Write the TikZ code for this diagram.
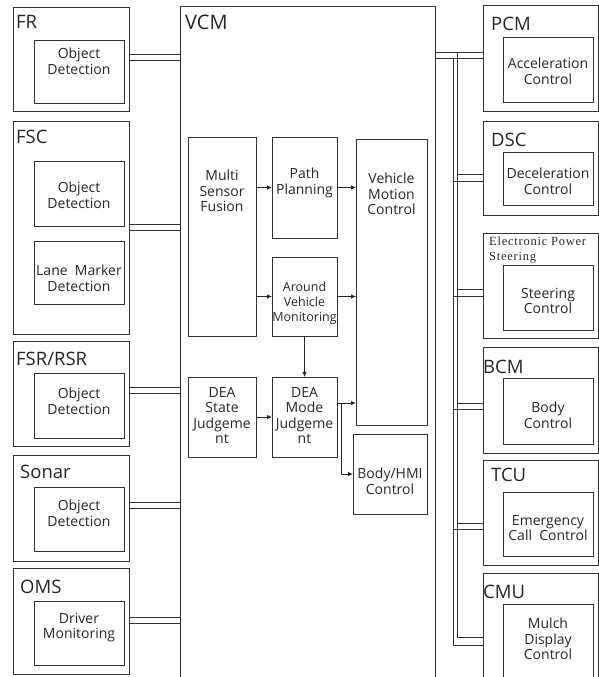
\documentclass[tikz,border=0pt]{standalone}
\usepackage{fontspec}
\setmainfont{Open Sans}
\newfontfamily\epsfont[LetterSpace=6]{Liberation Serif}
\usepackage{tikz}
\usetikzlibrary{arrows.meta, positioning}
\tikzset{
    obox/.style={rectangle, draw=black!80, line width=0.8pt, inner sep=0pt, outer sep=0pt},
    tag/.style={anchor=north west, inner sep=0pt, text=black!85, font=\fontsize{18.5}{21}\selectfont},
    txt/.style={align=center, inner sep=0pt, text=black!85, font=\fontsize{14}{15.5}\selectfont},
    smalltxt/.style={txt, font=\fontsize{12.5}{15}\selectfont},
    wire/.style={draw=black!80, line width=0.8pt},
    arrow/.style={-{Latex[length=5pt,width=4.5pt]}, draw=black!85, line width=0.8pt}
}
\begin{document}
\begin{tikzpicture}[x=1pt, y=-1pt]
    \useasboundingbox (0,0) rectangle (599,677);

    % central controller
    \node[obox, minimum width=255pt, minimum height=684pt] (vcm) at (307.5,348) {};
    \node[tag, font=\fontsize{20}{24}\selectfont] (vcm-t) at (185,15) {VCM};

    % sensors
    \node[obox, minimum width=116pt, minimum height=104pt] (fr) at (71,59) {};
    \node[obox, minimum width=90pt, minimum height=63pt] (fr-od) at (79,71.5) {};
    \node[tag] (fr-t) at (16,15) {FR};
    \node[txt, below=8pt of fr-od.north] (fr-od-t) {Object\\Detection};

    \node[obox, minimum width=116pt, minimum height=213pt] (fsc) at (71,227.5) {};
    \node[obox, minimum width=90pt, minimum height=65pt] (fsc-od) at (79,193.5) {};
    \node[obox, minimum width=90pt, minimum height=63pt] (fsc-lm) at (79,272.5) {};
    \node[tag] (fsc-t) at (16,130) {FSC};
    \node[txt, below=21pt of fsc-od.north] (fsc-od-t) {Object\\Detection};
    \node[txt, below=24pt of fsc-lm.north] (fsc-lm-t) {Lane\ \ Marker\\Detection};

    \node[obox, minimum width=116pt, minimum height=105pt] (fsr) at (71,393.5) {};
    \node[obox, minimum width=90pt, minimum height=65pt] (fsr-od) at (79,405.5) {};
    \node[tag] (fsr-t) at (16,352) {FSR/RSR};
    \node[txt, below=15pt of fsr-od.north] (fsr-od-t) {Object\\Detection};

    \node[obox, minimum width=116pt, minimum height=106pt] (sonar) at (71,508) {};
    \node[obox, minimum width=90pt, minimum height=64pt] (sonar-od) at (79,519) {};
    \node[tag] (sonar-t) at (20,465) {Sonar};
    \node[txt, below=13pt of sonar-od.north] (sonar-od-t) {Object\\Detection};

    \node[obox, minimum width=116pt, minimum height=106pt] (oms) at (71,621) {};
    \node[obox, minimum width=90pt, minimum height=64pt] (oms-dm) at (79,633) {};
    \node[tag] (oms-t) at (20,580) {OMS};
    \node[txt, below=12pt of oms-dm.north] (oms-dm-t) {Driver\\Monitoring};

    % actuators
    \node[obox, minimum width=115pt, minimum height=106pt] (pcm) at (540.5,58) {};
    \node[obox, minimum width=90pt, minimum height=65pt] (pcm-ac) at (548,69.5) {};
    \node[tag] (pcm-t) at (491,17) {PCM};
    \node[txt, below=21pt of pcm-ac.north] (pcm-ac-t) {Acceleration\\Control};

    \node[obox, minimum width=115pt, minimum height=94pt] (dsc) at (540.5,168) {};
    \node[obox, minimum width=90pt, minimum height=53pt] (dsc-dc) at (548,178.5) {};
    \node[tag] (dsc-t) at (491,133) {DSC};
    \node[txt, below=16pt of dsc-dc.north] (dsc-dc-t) {Deceleration\\Control};

    \node[obox, minimum width=115pt, minimum height=105pt] (eps) at (540.5,285.5) {};
    \node[obox, minimum width=90pt, minimum height=65pt] (eps-sc) at (548,297.5) {};
    \node[anchor=north west, inner sep=0pt, align=left, text=black!85,
          font=\epsfont\fontsize{12.5}{14.5}\selectfont] (eps-t) at (489,237) {Electronic Power\\Steering};
    \node[txt, below=23pt of eps-sc.north] (eps-sc-t) {Steering\\Control};

    \node[obox, minimum width=115pt, minimum height=106pt] (bcm) at (540.5,400) {};
    \node[obox, minimum width=90pt, minimum height=66pt] (bcm-bc) at (548,411) {};
    \node[tag] (bcm-t) at (483,360) {BCM};
    \node[txt, below=24pt of bcm-bc.north] (bcm-bc-t) {Body\\Control};

    \node[obox, minimum width=115pt, minimum height=105pt] (tcu) at (540.5,512.5) {};
    \node[obox, minimum width=90pt, minimum height=64pt] (tcu-ec) at (548,524) {};
    \node[tag] (tcu-t) at (491,468) {TCU};
    \node[txt, below=23pt of tcu-ec.north] (tcu-ec-t) {Emergency\\Call\ \ Control};

    \node[obox, minimum width=115pt, minimum height=117pt] (cmu) at (540.5,631.5) {};
    \node[obox, minimum width=90pt, minimum height=80pt] (cmu-md) at (548,644) {};
    \node[tag] (cmu-t) at (483,585) {CMU};
    \node[txt, below=14pt of cmu-md.north] (cmu-md-t) {Mulch\\Display\\Control};

    % functions inside VCM
    \node[obox, minimum width=68pt, minimum height=199pt] (msf) at (222,236.5) {};
    \node[obox, minimum width=65pt, minimum height=101pt] (pp) at (304.5,187.5) {};
    \node[obox, minimum width=71pt, minimum height=286pt] (vmc) at (391.5,282) {};
    \node[obox, minimum width=65pt, minimum height=79pt] (avm) at (304.5,296.5) {};
    \node[obox, minimum width=68pt, minimum height=80pt] (deas) at (222,417) {};
    \node[obox, minimum width=65pt, minimum height=80pt] (deam) at (304.5,417) {};
    \node[obox, minimum width=74pt, minimum height=80pt] (bhmi) at (390,474) {};

    \node[txt, below=33pt of msf.north] (msf-t) {Multi\\Sensor\\Fusion};
    \node[txt, below=31pt of pp.north] (pp-t) {Path\\Planning};
    \node[txt, below=34pt of vmc.north] (vmc-t) {Vehicle\\Motion\\Control};
    \node[smalltxt, below=25pt of avm.north] (avm-t) {Around\\Vehicle\\Monitoring};
    \node[txt, below=10pt of deas.north] (deas-t) {DEA\\State\\Judgeme\\nt};
    \node[txt, below=10pt of deam.north] (deam-t) {DEA\\Mode\\Judgeme\\nt};
    \node[txt, below=34pt of bhmi.north] (bhmi-t) {Body/HMI\\Control};

    \draw[arrow] (pp.west -| msf.east) -- (pp.west);
    \draw[arrow] (pp.east) -- (pp.east -| vmc.west);
    \draw[arrow] (avm.west -| msf.east) -- (avm.west);
    \draw[arrow] (avm.east) -- (avm.east -| vmc.west);
    \draw[arrow] (avm.south) -- (deam.north);
    \draw[arrow] (deas.east) -- (deam.west);
    \draw[arrow] ([yshift=14pt]deam.east) coordinate (out) -- (out -| vmc.west);
    \coordinate (split) at ([xshift=4pt]out);
    \draw[arrow] (split) |- (bhmi.west);

    % sensor links
    \foreach \b/\s in {fr/2, fsc/0, fsr/3.5, sonar/3, oms/1}
        \foreach \d in {-3,3}
            \draw[wire] ([yshift=\s pt, yshift=\d pt]\b.east) coordinate (p) -- (p -| vcm.west);

    % actuator bus
    \coordinate (bi) at (457,52);
    \coordinate (bo) at (453,58);
    \draw[wire] (vcm.east |- bi) -- (pcm.west |- bi);
    \draw[wire] (vcm.east |- bo) -- (pcm.west |- bo);
    \draw[wire] (bi) |- ([yshift=-5.5pt]cmu.west);
    \draw[wire] (bo) |- ([yshift=-13.5pt]cmu.west);
    \foreach \b/\sa/\sb in {dsc/-6/-13, eps/-3.5/-10.5, bcm/-3/-9, tcu/-10.5/-16.5} {
        \draw[wire] ([yshift=\sa pt]\b.west) coordinate (p) -- (p -| bi);
        \draw[wire] ([yshift=\sb pt]\b.west) coordinate (p) -- (p -| bo);
    }
\end{tikzpicture}
\end{document}
